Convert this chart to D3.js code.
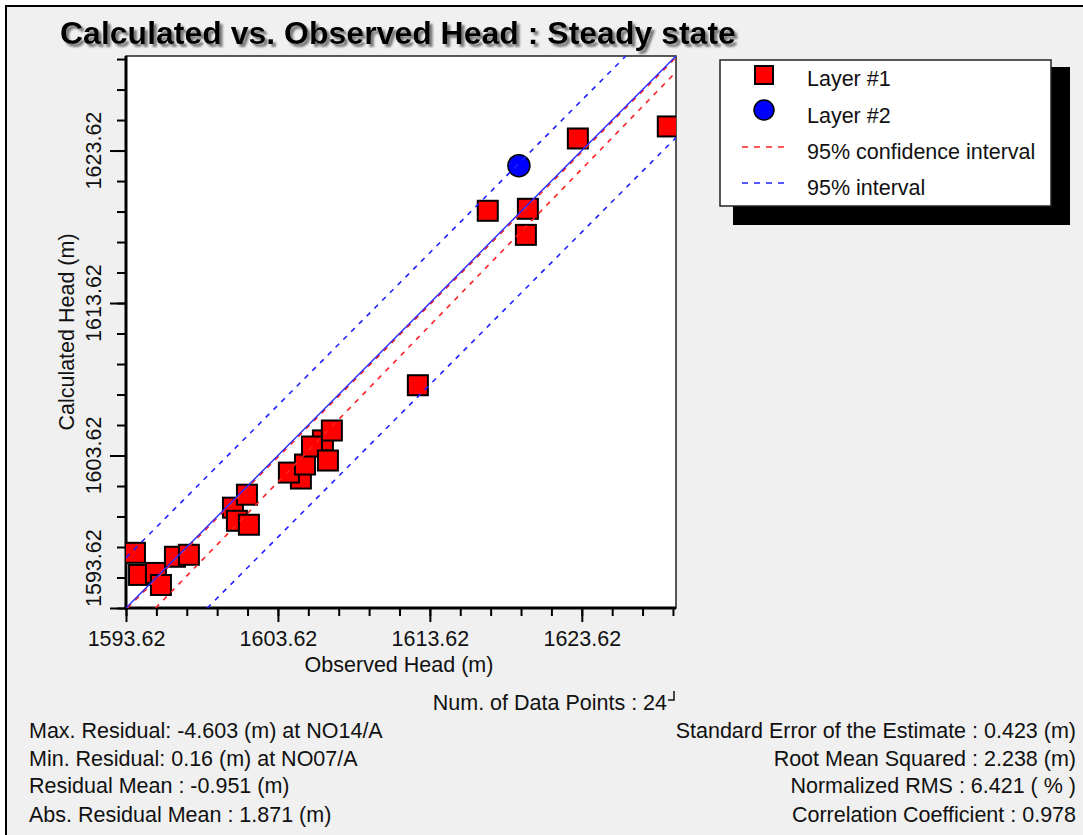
<!DOCTYPE html>
<html>
<head>
<meta charset="utf-8">
<script src="https://cdn.jsdelivr.net/npm/d3@7"></script>
<style>
  body { margin: 0; background: #ffffff; }
  text { font-family: "Liberation Sans", Arial, sans-serif; fill: #111; }
</style>
</head>
<body>
<div id="chart"></div>
<script>
// observed / calculated heads (m)
var layer1Obs  = [1594.21, 1594.48, 1595.59, 1595.92, 1596.84, 1597.76,
                  1600.66, 1601.58, 1600.92, 1601.71,
                  1606.58, 1605.13, 1604.34, 1605.40, 1605.86, 1606.91, 1607.17,
                  1612.83, 1617.43, 1620.07, 1619.94, 1623.36, 1629.28];
var layer1Calc = [1597.24, 1595.79, 1595.92, 1595.13, 1596.98, 1597.11,
                  1600.20, 1601.05, 1599.34, 1599.08,
                  1604.61, 1602.11, 1602.50, 1603.03, 1604.21, 1603.29, 1605.26,
                  1608.23, 1619.67, 1619.80, 1618.09, 1624.41, 1625.20];
var layer2Obs  = [1619.48];
var layer2Calc = [1622.63];

// reference / interval lines (endpoints, data units)
var identityLine = [[1593.62, 1593.62], [1629.82, 1629.82]];
var ciUpper = [[1593.72, 1593.62], [1629.82, 1629.72]];
var ciLower = [[1595.57, 1593.62], [1629.82, 1628.77]];
var piUpper = [[1593.62, 1596.92], [1626.52, 1629.82]];
var piLower = [[1598.97, 1593.62], [1629.82, 1624.47]];

var majorTicks = [1593.62, 1603.62, 1613.62, 1623.62];
var minorTicks = d3.range(0, 19).map(function (i) { return 1593.62 + i * 2; });
var domain = [1593.62, 1629.82];

var legendLabels = ["Layer #1", "Layer #2", "95% confidence interval", "95% interval"];
var statsLeft = ["Max. Residual: -4.603 (m) at NO14/A",
                 "Min. Residual: 0.16 (m) at NO07/A",
                 "Residual Mean : -0.951 (m)",
                 "Abs. Residual Mean : 1.871 (m)"];
var statsRight = ["Standard Error of the Estimate : 0.423 (m)",
                  "Root Mean Squared : 2.238 (m)",
                  "Normalized RMS : 6.421 ( % )",
                  "Correlation Coefficient : 0.978"];

var svgWidth = 1083, svgHeight = 835;
var plot = { left: 126, top: 56, right: 676, bottom: 608 };
var fs = 21.5;

var svg = d3.select("#chart").append("svg")
  .attr("width", svgWidth)
  .attr("height", svgHeight);

// panel background with black top/left edge
svg.append("rect").attr("x", 6).attr("y", 6)
  .attr("width", svgWidth).attr("height", svgHeight).attr("fill", "#f0f0f0");
svg.append("line").attr("x1", 5).attr("y1", 6).attr("x2", svgWidth).attr("y2", 6)
  .attr("stroke", "#000").attr("stroke-width", 2);
svg.append("line").attr("x1", 6).attr("y1", 5).attr("x2", 6).attr("y2", svgHeight)
  .attr("stroke", "#000").attr("stroke-width", 2);

var defs = svg.append("defs");
var shadow = defs.append("filter").attr("id", "shadow")
  .attr("x", "-5%").attr("y", "-30%").attr("width", "110%").attr("height", "160%");
shadow.append("feGaussianBlur").attr("in", "SourceAlpha").attr("stdDeviation", 1.2).attr("result", "b");
shadow.append("feOffset").attr("in", "b").attr("dx", 3).attr("dy", 3).attr("result", "o");
shadow.append("feFlood").attr("flood-color", "#777").attr("result", "c");
shadow.append("feComposite").attr("in", "c").attr("in2", "o").attr("operator", "in").attr("result", "s");
var merge = shadow.append("feMerge");
merge.append("feMergeNode").attr("in", "s");
merge.append("feMergeNode").attr("in", "SourceGraphic");

defs.append("clipPath").attr("id", "plotClip")
  .append("rect").attr("x", plot.left).attr("y", plot.top)
  .attr("width", plot.right - plot.left).attr("height", plot.bottom - plot.top);

// title with soft shadow
svg.append("text").attr("x", 60).attr("y", 44)
  .attr("font-size", 32).attr("font-weight", "bold")
  .style("fill", "#000").attr("filter", "url(#shadow)")
  .text("Calculated vs. Observed Head : Steady state");

var x = d3.scaleLinear().domain(domain).range([plot.left, plot.right]);
var y = d3.scaleLinear().domain(domain).range([plot.bottom, plot.top]);

// plot area
svg.append("rect")
  .attr("x", plot.left).attr("y", plot.top)
  .attr("width", plot.right - plot.left).attr("height", plot.bottom - plot.top)
  .attr("fill", "#fff").attr("stroke", "#222").attr("stroke-width", 1.5);

// axes: minor ticks, then major ticks
function styleAxis(g) {
  g.select(".domain").remove();
  g.selectAll(".tick line").attr("stroke", "#000").attr("stroke-width", 2);
}
svg.append("g").attr("transform", "translate(0," + plot.bottom + ")")
  .call(d3.axisBottom(x).tickValues(minorTicks).tickSize(8).tickFormat(""))
  .call(styleAxis);
var xMajor = svg.append("g").attr("transform", "translate(0," + plot.bottom + ")")
  .call(d3.axisBottom(x).tickValues(majorTicks).tickSize(14).tickPadding(24).tickFormat(d3.format(".2f")))
  .call(styleAxis);
xMajor.selectAll(".tick text").attr("font-size", fs).attr("dy", 0).style("fill", "#111")
  .attr("font-family", "Liberation Sans, Arial, sans-serif");

svg.append("g").attr("transform", "translate(" + plot.left + ",0)")
  .call(d3.axisLeft(y).tickValues(minorTicks).tickSize(9).tickFormat(""))
  .call(styleAxis);
svg.append("g").attr("transform", "translate(" + plot.left + ",0)")
  .call(d3.axisLeft(y).tickValues(majorTicks).tickSize(16).tickFormat(""))
  .call(styleAxis);

// rotated y tick labels (bottom one kept above the corner)
svg.selectAll(".ylab").data(majorTicks).enter().append("text")
  .attr("class", "ylab")
  .attr("transform", function (d, i) {
    var yy = i === 0 ? plot.bottom - 1 : y(d);
    return "translate(101," + yy + ") rotate(-90)";
  })
  .attr("text-anchor", function (d, i) { return i === 0 ? "start" : "middle"; })
  .attr("font-size", fs)
  .text(d3.format(".2f"));

// thick left / bottom axis lines
svg.append("line").attr("x1", plot.left).attr("y1", plot.top).attr("x2", plot.left).attr("y2", plot.bottom + 1.5)
  .attr("stroke", "#000").attr("stroke-width", 3);
svg.append("line").attr("x1", plot.left - 1.5).attr("y1", plot.bottom).attr("x2", plot.right).attr("y2", plot.bottom)
  .attr("stroke", "#000").attr("stroke-width", 3);

// axis titles
svg.append("text").attr("x", (plot.left + plot.right) / 2 - 2).attr("y", 672)
  .attr("text-anchor", "middle").attr("font-size", fs).text("Observed Head (m)");
svg.append("text").attr("transform", "translate(74," + (plot.top + plot.bottom) / 2 + ") rotate(-90)")
  .attr("text-anchor", "middle").attr("font-size", fs).text("Calculated Head (m)");

// markers
var marks = svg.append("g").attr("clip-path", "url(#plotClip)");
var sq = 20;
marks.selectAll("rect.l1").data(layer1Obs).enter().append("rect")
  .attr("class", "l1")
  .attr("x", function (d) { return x(d) - sq / 2; })
  .attr("y", function (d, i) { return y(layer1Calc[i]) - sq / 2; })
  .attr("width", sq).attr("height", sq)
  .attr("fill", "#ff0000").attr("stroke", "#000").attr("stroke-width", 2);
marks.selectAll("circle.l2").data(layer2Obs).enter().append("circle")
  .attr("class", "l2")
  .attr("cx", function (d) { return x(d); })
  .attr("cy", function (d, i) { return y(layer2Calc[i]); })
  .attr("r", 11)
  .attr("fill", "#0000ff").attr("stroke", "#000").attr("stroke-width", 1.5);

// lines over the markers
var line = d3.line().x(function (d) { return x(d[0]); }).y(function (d) { return y(d[1]); });
var lines = svg.append("g").attr("clip-path", "url(#plotClip)").attr("fill", "none");
[[ciUpper, "#ff2020"], [ciLower, "#ff2020"], [piUpper, "#2020ff"], [piLower, "#2020ff"]].forEach(function (l) {
  lines.append("path").datum(l[0]).attr("d", line)
    .attr("stroke", l[1]).attr("stroke-width", 1.6).attr("stroke-dasharray", "5,6");
});
lines.append("path").datum(identityLine).attr("d", line)
  .attr("stroke", "#2a2aff").attr("stroke-width", 1.4);

// legend
var legend = svg.append("g");
legend.append("rect").attr("x", 733).attr("y", 67).attr("width", 337).attr("height", 158).attr("fill", "#000");
legend.append("rect").attr("x", 720).attr("y", 60).attr("width", 331).attr("height", 146)
  .attr("fill", "#fff").attr("stroke", "#222").attr("stroke-width", 1.5);
var legendY = [86, 123, 159, 195];
legend.selectAll("text").data(legendLabels).enter().append("text")
  .attr("x", 807).attr("y", function (d, i) { return legendY[i]; })
  .attr("font-size", fs).text(function (d) { return d; });
legend.append("rect").attr("x", 755).attr("y", 66).attr("width", 18).attr("height", 18)
  .attr("fill", "#ff0000").attr("stroke", "#000").attr("stroke-width", 2);
legend.append("circle").attr("cx", 764).attr("cy", 110).attr("r", 10)
  .attr("fill", "#0000ff").attr("stroke", "#000").attr("stroke-width", 1.5);
legend.append("line").attr("x1", 742).attr("x2", 786).attr("y1", 147).attr("y2", 147)
  .attr("stroke", "#ff2020").attr("stroke-width", 1.5).attr("stroke-dasharray", "6,6");
legend.append("line").attr("x1", 742).attr("x2", 786).attr("y1", 183).attr("y2", 183)
  .attr("stroke", "#2020ff").attr("stroke-width", 1.5).attr("stroke-dasharray", "6,6");

// statistics
svg.append("text").attr("x", 667).attr("y", 710)
  .attr("text-anchor", "end").attr("font-size", fs)
  .text("Num. of Data Points : 24");
svg.append("path").attr("d", "M668,700 H674 V691").attr("fill", "none")
  .attr("stroke", "#111").attr("stroke-width", 1.5);

var statY = [738, 766, 793, 822];
svg.selectAll("text.sl").data(statsLeft).enter().append("text")
  .attr("class", "sl").attr("x", 29).attr("y", function (d, i) { return statY[i]; })
  .attr("font-size", fs).text(function (d) { return d; });
svg.selectAll("text.sr").data(statsRight).enter().append("text")
  .attr("class", "sr").attr("x", 1076).attr("y", function (d, i) { return statY[i]; })
  .attr("text-anchor", "end").attr("font-size", fs).text(function (d) { return d; });
</script>
</body>
</html>
